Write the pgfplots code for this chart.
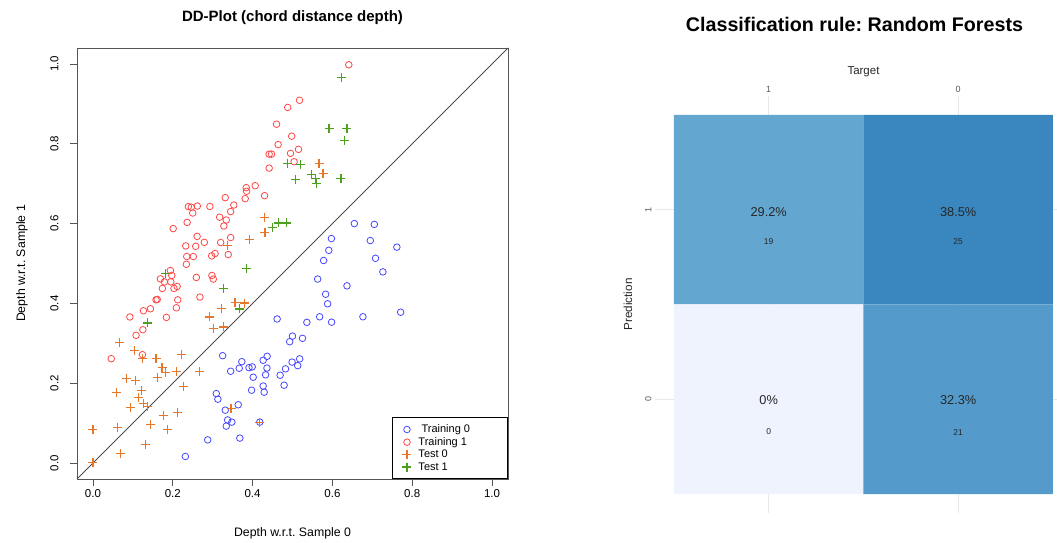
\documentclass[border=0pt]{standalone}
\usepackage{pgfplots}
\pgfplotsset{compat=1.18}
\usepackage{fontspec}
\setmainfont{Liberation Sans}
\frenchspacing
\definecolor{tr0}{RGB}{70,70,255}
\definecolor{tr1}{RGB}{255,70,70}
\definecolor{te0}{RGB}{230,118,40}
\definecolor{te1}{RGB}{76,160,30}
\definecolor{tileA}{RGB}{99,167,209}
\definecolor{tileB}{RGB}{58,135,191}
\definecolor{tileC}{RGB}{238,243,253}
\definecolor{tileD}{RGB}{84,155,204}
\definecolor{axgray}{RGB}{85,85,85}
\pgfplotsset{every axis title shift=0pt}
\begin{document}
\begin{tikzpicture}[x=1pt,y=1pt]
\path[use as bounding box] (0,0) rectangle (1057,543);
% ---------------- Left: DD-plot ----------------
\begin{axis}[
  at={(77pt,64pt)}, anchor=south west,
  scale only axis, width=431pt, height=431pt,
  xmin=-0.04, xmax=1.04, ymin=-0.04, ymax=1.04,
  /pgf/number format/assume math mode=true,
  xtick={0,0.2,0.4,0.6,0.8,1}, xticklabels={0.0,0.2,0.4,0.6,0.8,1.0},
  ytick={0,0.2,0.4,0.6,0.8,1}, yticklabels={0.0,0.2,0.4,0.6,0.8,1.0},
  tick pos=left, tick align=outside, major tick length=7pt,
  tick style={axgray, line width=0.8pt},
  axis line style={axgray, line width=0.8pt},
  ticklabel style={font=\fontsize{11.5}{13}\selectfont},
  yticklabel style={rotate=90, anchor=south},
  yticklabel shift=8pt,
  xlabel={Depth w.r.t. Sample 0},
  xlabel style={at={(axis description cs:0.5,-0.1253)}, anchor=center, font=\fontsize{12.3}{14}\selectfont},
  ylabel={Depth w.r.t. Sample 1},
  ylabel style={at={(axis description cs:-0.1276,0.5)}, anchor=center, font=\fontsize{12.3}{14}\selectfont},
  title={DD-Plot (chord distance depth)},
  title style={at={(axis description cs:0.5,1.0696)}, anchor=center, font=\bfseries\fontsize{15}{17}\selectfont},
  legend style={at={(axis description cs:1,0)}, anchor=south east, draw=black, line width=0.9pt,
    font=\fontsize{11}{12}\selectfont, row sep=-0.8pt, column sep=5pt, inner xsep=10.5pt, inner ysep=5pt},
  legend cell align=left,
]
\addplot[forget plot, black!70, line width=0.8pt] coordinates {(-0.04,-0.04) (1.04,1.04)};
\addplot[only marks, mark=o, tr0, mark size=3.3pt, line width=0.8pt] coordinates {
(0.655,0.600) (0.705,0.598) (0.5975,0.5625) (0.695,0.5575) (0.7615,0.541) (0.591,0.533) (0.708,0.513) (0.578,0.5075)
(0.7265,0.479) (0.563,0.461) (0.6365,0.444) (0.583,0.423) (0.588,0.399) (0.771,0.378) (0.568,0.3665) (0.6765,0.3665)
(0.536,0.3525) (0.598,0.353) (0.500,0.318) (0.493,0.304) (0.525,0.3125) (0.499,0.253) (0.518,0.261) (0.513,0.244)
(0.4615,0.361) (0.325,0.269) (0.373,0.254) (0.4265,0.2575) (0.4365,0.2675) (0.345,0.230) (0.3665,0.2375) (0.391,0.239)
(0.399,0.241) (0.436,0.238) (0.4825,0.236) (0.4015,0.215) (0.4325,0.221) (0.469,0.220) (0.479,0.195) (0.4265,0.193)
(0.3975,0.1825) (0.429,0.1775) (0.309,0.174) (0.313,0.160) (0.364,0.146) (0.3315,0.1325) (0.3375,0.108) (0.348,0.1025)
(0.334,0.0925) (0.418,0.1025) (0.2875,0.058) (0.368,0.0625) (0.2315,0.0165)
};
\addlegendentry{\ Training 0\hspace*{25pt}}
\addplot[only marks, mark=o, tr1, mark size=3.3pt, line width=0.8pt] coordinates {
(0.488,0.891) (0.460,0.849) (0.498,0.819) (0.464,0.798) (0.4415,0.774) (0.4475,0.774) (0.495,0.776) (0.504,0.755)
(0.515,0.786) (0.4415,0.739) (0.384,0.690) (0.385,0.681) (0.4065,0.695) (0.3815,0.6625) (0.430,0.670) (0.3315,0.665)
(0.353,0.6465) (0.293,0.643) (0.239,0.6425) (0.2465,0.641) (0.2615,0.644) (0.250,0.6265) (0.345,0.630) (0.3175,0.616)
(0.334,0.609) (0.328,0.594) (0.236,0.603) (0.201,0.5875) (0.261,0.568) (0.345,0.565) (0.279,0.553) (0.320,0.5525)
(0.2325,0.544) (0.2575,0.543) (0.235,0.5175) (0.2515,0.5175) (0.2975,0.519) (0.306,0.525) (0.339,0.5225) (0.234,0.498)
(0.641,0.998) (0.5175,0.909) (0.194,0.4825) (0.169,0.4615) (0.1975,0.470) (0.179,0.454) (0.195,0.454) (0.174,0.4375)
(0.203,0.4375) (0.211,0.4425) (0.259,0.465) (0.298,0.470) (0.3015,0.461) (0.2125,0.409) (0.161,0.410) (0.158,0.409)
(0.268,0.416) (0.209,0.389) (0.144,0.3865) (0.1265,0.3815) (0.0925,0.366) (0.184,0.365) (0.125,0.334) (0.108,0.320)
(0.124,0.2715) (0.0458,0.2615)
};
\addlegendentry{Training 1}
\addplot[only marks, mark=+, te0, mark size=4.5pt, line width=1.1pt] coordinates {
(0.356,0.4025) (0.380,0.401) (0.321,0.3865) (0.2915,0.366) (0.3275,0.341) (0.3015,0.3365) (0.066,0.301) (0.105,0.281)
(0.124,0.2615) (0.2225,0.273) (0.158,0.2615) (0.173,0.239) (0.1815,0.2265) (0.209,0.229) (0.2665,0.229) (0.161,0.214)
(0.083,0.2115) (0.1065,0.2075) (0.2265,0.1925) (0.1215,0.181) (0.058,0.1765) (0.113,0.164) (0.1275,0.149) (0.136,0.1425)
(0.095,0.139) (0.211,0.1265) (0.1765,0.119) (0.346,0.1375) (0.144,0.0965) (0.0,0.085) (0.061,0.089) (0.1875,0.085)
(0.418,0.1025) (0.131,0.0465) (0.069,0.024) (0.0,0.0015) (0.429,0.616) (0.431,0.5775) (0.3915,0.560) (0.336,0.546)
(0.5665,0.751) (0.5765,0.726)
};
\addlegendentry{Test 0}
\addplot[only marks, mark=+, te1, mark size=4.5pt, line width=1.1pt] coordinates {
(0.1815,0.474) (0.384,0.4875) (0.328,0.4375) (0.3675,0.386) (0.1375,0.351) (0.4865,0.7515) (0.5065,0.7115) (0.449,0.591)
(0.466,0.6015) (0.486,0.6015) (0.623,0.9665) (0.5915,0.838) (0.6365,0.838) (0.631,0.8075) (0.520,0.748) (0.548,0.723)
(0.558,0.7125) (0.56,0.701) (0.6215,0.7125)
};
\addlegendentry{Test 1}
\end{axis}
% ---------------- Right: confusion matrix ----------------
\begin{axis}[
  at={(655pt,30pt)}, anchor=south west,
  scale only axis, width=401.7pt, height=417pt,
  xmin=0.4, xmax=2.52, ymin=0.4, ymax=2.6,
  /pgf/number format/assume math mode=true,
  axis line style={draw=none},
  major tick length=0pt,
  grid=major, grid style={black!9, line width=0.7pt},
  xtick={1,2}, xticklabels={1,0}, xticklabel pos=upper,
  ytick={1,2}, yticklabels={0,1},
  ticklabel style={font=\fontsize{9}{10}\selectfont, text=black!65},
  yticklabel style={rotate=90, anchor=south},
  xlabel={Target},
  xlabel style={at={(axis description cs:0.519,1.0576)}, anchor=center, font=\fontsize{11.5}{13}\selectfont, text=black!85},
  ylabel={Prediction},
  ylabel style={at={(axis description cs:-0.0672,0.5)}, anchor=center, font=\fontsize{11.7}{13}\selectfont, text=black!85},
  title={Classification rule: Random Forests},
  title style={at={(axis description cs:0.4966,1.1727)}, anchor=center, font=\bfseries\fontsize{19.7}{22}\selectfont},
]
\addplot[fill=tileA, draw=none] coordinates {(0.5,1.5) (1.5,1.5) (1.5,2.5) (0.5,2.5) (0.5,1.5)};
\addplot[fill=tileB, draw=none] coordinates {(1.5,1.5) (2.5,1.5) (2.5,2.5) (1.5,2.5) (1.5,1.5)};
\addplot[fill=tileC, draw=none] coordinates {(0.5,0.5) (1.5,0.5) (1.5,1.5) (0.5,1.5) (0.5,0.5)};
\addplot[fill=tileD, draw=none] coordinates {(1.5,0.5) (2.5,0.5) (2.5,1.5) (1.5,1.5) (1.5,0.5)};
\addplot[draw=none, mark=none, point meta=explicit symbolic,
  nodes near coords={\pgfplotspointmeta\%}, nodes near coords align=center,
  every node near coord/.append style={anchor=center, font=\fontsize{12.8}{15}\selectfont, text=black!85}]
  coordinates {(1,1.99) [29.2] (2,1.99) [38.5] (1,0.996) [0] (2,0.996) [32.3]};
\addplot[draw=none, mark=none, point meta=explicit symbolic,
  nodes near coords={\pgfplotspointmeta}, nodes near coords align=center,
  every node near coord/.append style={anchor=center, font=\fontsize{8.5}{10}\selectfont, text=black!85}]
  coordinates {(1,1.83) [19] (2,1.83) [25] (1,0.827) [0] (2,0.827) [21]};
\end{axis}
\end{tikzpicture}
\end{document}
